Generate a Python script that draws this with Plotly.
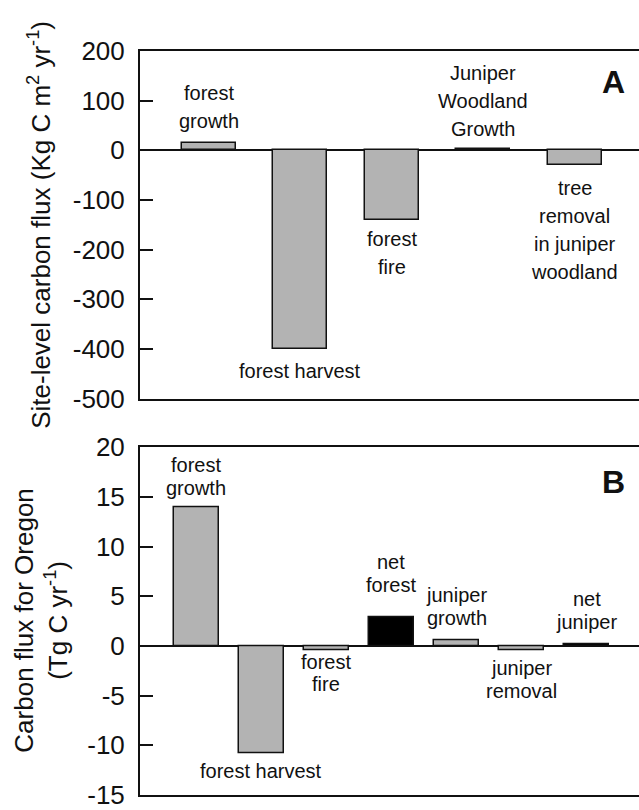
import plotly.graph_objects as go

# ---------------- data ----------------
cats_a = ["forest growth", "forest harvest", "forest fire",
          "Juniper Woodland Growth", "tree removal in juniper woodland"]
vals_a = [14, -400, -140, 3, -30]
labels_a = [["forest", "growth"], ["forest harvest"], ["forest", "fire"],
            ["Juniper", "Woodland", "Growth"],
            ["tree", "removal", "in juniper", "woodland"]]

cats_b = ["forest growth", "forest harvest", "forest fire", "net forest",
          "juniper growth", "juniper removal", "net juniper"]
vals_b = [14, -10.8, -0.4, 2.9, 0.6, -0.4, 0.2]
is_net_b = [False, False, False, True, False, False, True]
labels_b = [["forest", "growth"], ["forest harvest"], ["forest", "fire"],
            ["net", "forest"], ["juniper", "growth"], ["juniper", "removal"],
            ["net", "juniper"]]

ticks_a = [200, 100, 0, -100, -200, -300, -400, -500]
ticktext_a = ["200", "100", "0", "-100", "-200", "-300", "-400", "-500"]
ticks_b = [20, 15, 10, 5, 0, -5, -10, -15]
ticktext_b = ["20", "15", "10", "5", "0", "-5", "-10", "-15"]

# label block centres (data units) - layout positions
lab_y_a = [88, -444, -206, 100, -160]
lab_y_b = [17.05, -12.6, -2.7, 7.3, 4.0, -3.35, 3.55]

FONT = "Arial, Liberation Sans, sans-serif"
GRAY = "#b3b3b3"
EDGE = "#111111"

W, H, L, R, T, B = 639, 810, 140, 0, 51, 10
pw, ph = W - L - R, H - T - B
def px2paper(px, py):
    return (px - L) / pw, (H - B - py) / ph

fig = go.Figure()
fig.add_trace(go.Bar(
    x=list(range(len(cats_a))), y=vals_a, width=0.59,
    marker=dict(color=GRAY, line=dict(color=EDGE, width=1.5)),
    xaxis="x", yaxis="y", hovertext=cats_a, showlegend=False))
fig.add_trace(go.Bar(
    x=list(range(len(cats_b))), y=vals_b, width=0.69,
    marker=dict(color=["#000000" if n else GRAY for n in is_net_b],
                line=dict(color=EDGE, width=1.5)),
    xaxis="x2", yaxis="y2", hovertext=cats_b, showlegend=False))

ann = []
def add_labels(labels, ys, xref, yref, spacing):
    for i, (lines, yc) in enumerate(zip(labels, ys)):
        n = len(lines)
        for j, t in enumerate(lines):
            ann.append(dict(x=i, y=yc, xref=xref, yref=yref, text=t,
                            showarrow=False, xanchor="center", yanchor="middle",
                            yshift=((n - 1) / 2 - j) * spacing,
                            font=dict(family=FONT, size=20, color="#111")))

add_labels(labels_a, lab_y_a, "x", "y", 28)
add_labels(labels_b, lab_y_b, "x2", "y2", 22.5)

# panel letters
for letter, (lx, ly) in (("A", (613, 82)), ("B", (613, 485))):
    px_, py_ = px2paper(lx, ly)
    ann.append(dict(x=px_, y=py_, xref="paper", yref="paper",
                    text="<b>%s</b>" % letter, showarrow=False,
                    xanchor="center", yanchor="middle",
                    font=dict(family=FONT, size=32, color="#111")))

# axis titles
title_font = dict(family=FONT, size=26, color="#111")
ann.append(dict(x=px2paper(40, 0)[0], y=px2paper(0, 226)[1], xref="paper", yref="paper",
                text="Site-level carbon flux (Kg C m<sup>2</sup> yr<sup>-1</sup>)",
                textangle=-90, showarrow=False, xanchor="center", yanchor="middle",
                font=title_font))
ann.append(dict(x=px2paper(41.5, 0)[0], y=px2paper(0, 625)[1], xref="paper", yref="paper",
                text="Carbon flux for Oregon<br>(Tg C yr<sup>-1</sup>)",
                textangle=-90, showarrow=False, xanchor="center", yanchor="middle",
                font=title_font))

tickfont = dict(family=FONT, size=26, color="#111")
xcommon = dict(showline=True, linecolor=EDGE, linewidth=2, mirror=True,
               showticklabels=False, ticks="", showgrid=False, zeroline=False)
ycommon = dict(showline=True, linecolor=EDGE, linewidth=2, ticks="inside",
               ticklen=13, tickwidth=1.5, tickcolor=EDGE, showgrid=False,
               zeroline=True, zerolinecolor=EDGE, zerolinewidth=1.5,
               tickfont=tickfont, ticklabelstandoff=8, ticklabeloverflow="allow")

fig.update_layout(
    width=W, height=H, margin=dict(l=L, r=R, t=T, b=B),
    paper_bgcolor="white", plot_bgcolor="white",
    xaxis=dict(domain=[0, 1], anchor="y", range=[-0.754, 4.705], **xcommon),
    yaxis=dict(domain=[px2paper(0, 401)[1], 1], anchor="x", range=[-500, 200],
               tickvals=ticks_a, ticktext=ticktext_a, **ycommon),
    xaxis2=dict(domain=[0, 1], anchor="y2", range=[-0.86, 6.8], **xcommon),
    yaxis2=dict(domain=[0, px2paper(0, 450)[1]], anchor="x2", range=[-15, 20],
                tickvals=ticks_b, ticktext=ticktext_b, **ycommon),
    annotations=ann, bargap=0,
)

fig.write_html("out.html")
